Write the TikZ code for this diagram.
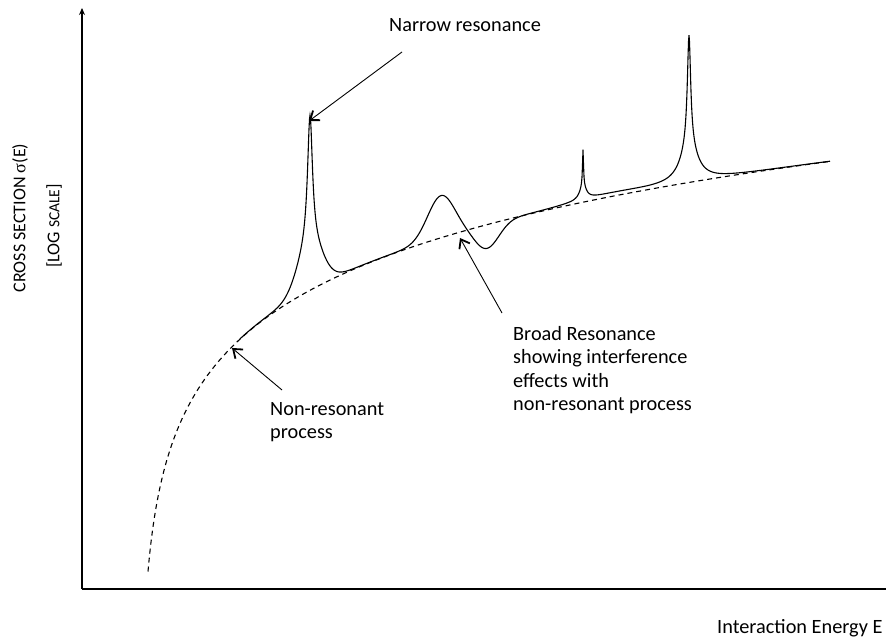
\documentclass[tikz,border=0pt]{standalone}
\usepackage{fontspec}
\setmainfont{Carlito}
\newfontfamily\greekserif{Liberation Serif}
\usetikzlibrary{arrows.meta}
\usetikzlibrary{math}

\begin{document}
\begin{tikzpicture}[x=1pt,y=-1pt,
		declare function={
			base(\x)=762.8-92*ln(\x-140);
			lor(\x,\c,\w)=1/(1+min(abs(\x-\c)/\w,100)^2);
			gau(\x,\c,\w)=exp(-min(abs(\x-\c)/\w,5)^2);
			sigma(\x)=base(\x)-130*lor(\x,310,3)-45*gau(\x,310,17)
				-42*gau(\x,441,19)+24*gau(\x,487,17)
				-36*lor(\x,583,0.6)-14*lor(\x,583,4)
				-110*lor(\x,689,2)-37*lor(\x,689,10)
				-3*gau(\x,610,50);},
		txt/.style={font=\fontsize{20.3}{23.5}\selectfont, inner sep=0pt},
		axistxt/.style={font=\fontsize{18}{21}\selectfont, inner sep=0pt},
		pointer/.style={line width=0.9pt, -{Straight Barb[length=8pt,width=12pt,line width=1.8pt]}}]
		\useasboundingbox (0,0) rectangle (886,639);
		\coordinate (O) at (82,589);
		\coordinate (Ytop) at (82,8);
		\coordinate (Xend) at (886,589);
		\draw[line width=1.4pt, -{Stealth[length=7pt,width=6pt]}] (O) -- (Ytop);
		\draw[line width=1.4pt] (O) -- (Xend);

		\draw[line width=1.1pt, dash pattern=on 5pt off 4pt] plot[domain=148:830, samples=400, smooth] (\x,{base(\x)});
		\draw[line width=1.1pt] plot[domain=240:830, samples=1181] (\x,{sigma(\x)});

		\node[axistxt, rotate=90] (ylab) at (20,218) {CROSS SECTION {\greekserif σ}(E)};
		\node[axistxt, rotate=90] (yscale) at (54,226) {[LOG {\fontsize{15.5}{18}\selectfont SCALE}]};
		\node[txt, anchor=base west] (xlab) at (717,633) {Interaction Energy E};

		\node[txt, anchor=base west] (narrow) at (389,32) {Narrow resonance};
		\node[txt, anchor=north west, align=left] (broad) at (513,326) {Broad Resonance\\showing interference\\effects with\\non-resonant process};
		\node[txt, anchor=north west, align=left] (nonres) at (270,402) {Non-resonant\\process};

		\coordinate (narrowfrom) at (402,52);
		\coordinate (narrowpeak) at (309,121);
		\coordinate (broadfrom) at (502,313);
		\coordinate (broadpeak) at (460,238);
		\coordinate (nonresfrom) at (282,390);
		\coordinate (nonrescurve) at (232,348);
		\draw[pointer] (narrowfrom) -- (narrowpeak);
		\draw[pointer] (broadfrom) -- (broadpeak);
		\draw[pointer] (nonresfrom) -- (nonrescurve);
	\end{tikzpicture}
\end{document}
